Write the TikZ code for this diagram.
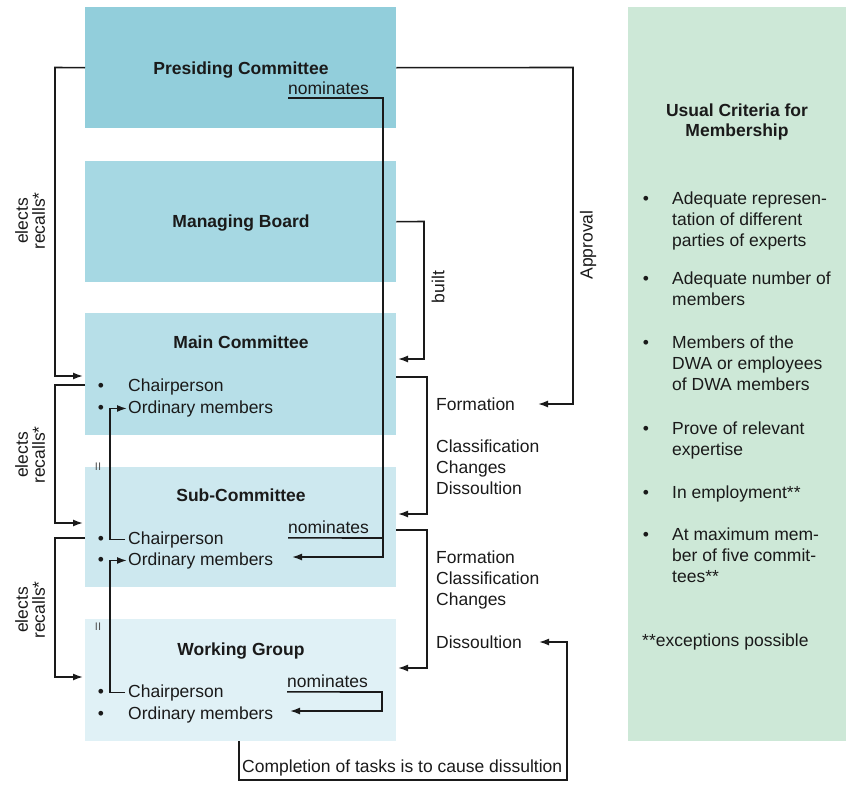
\documentclass[tikz,border=0pt]{standalone}
\usepackage{fontspec}
\setmainfont{Liberation Sans}
\usetikzlibrary{arrows.meta}
\definecolor{pcC}{HTML}{92CEDB}
\definecolor{mbC}{HTML}{A6D8E3}
\definecolor{mcC}{HTML}{B7DFE8}
\definecolor{scC}{HTML}{CDE8EF}
\definecolor{wgC}{HTML}{E0F1F6}
\definecolor{crC}{HTML}{CDE8D7}
\definecolor{ink}{HTML}{1A1A1A}
\begin{document}
\begin{tikzpicture}[x=1pt,y=-1pt,
  box/.style={draw=none, inner sep=0pt, anchor=north west},
  txt/.style={font=\fontsize{17.5}{21}\selectfont, inner sep=0pt, text=ink},
  ttl/.style={font=\fontsize{17.5}{20}\selectfont\bfseries, inner sep=0pt, text=ink},
  rot/.style={font=\fontsize{17.5}{17}\selectfont, inner sep=0pt, text=ink, rotate=90, align=center},
  ln/.style={draw=ink, line width=1.6pt},
  arr/.style={ln, -{Latex[length=10pt,width=7pt]}},
  tinytxt/.style={font=\fontsize{11}{11}\selectfont, inner sep=0pt, text=ink!75}
]
\path[use as bounding box] (0,0) rectangle (849,787);

% boxes
\node[box, fill=pcC, minimum width=311pt, minimum height=121pt] (pc) at (85,7) {};
\node[box, fill=mbC, minimum width=311pt, minimum height=121pt] (mb) at (85,161) {};
\node[box, fill=mcC, minimum width=311pt, minimum height=122pt] (mc) at (85,313) {};
\node[box, fill=scC, minimum width=311pt, minimum height=120pt] (sc) at (85,467) {};
\node[box, fill=wgC, minimum width=311pt, minimum height=122pt] (wg) at (85,619) {};
\node[box, fill=crC, minimum width=218pt, minimum height=734pt] (cr) at (628,7) {};

% titles
\node[ttl, anchor=base] (pcT) at (241,74) {Presiding Committee};
\node[txt, anchor=base west] (pcN) at (288,94) {nominates};
\node[ttl, anchor=base] (mbT) at (241,227) {Managing Board};
\node[ttl, anchor=base] (mcT) at (241,348) {Main Committee};
\node[ttl, anchor=base] (scT) at (241,501) {Sub-Committee};
\node[ttl, anchor=base] (wgT) at (241,655) {Working Group};
\node[tinytxt, anchor=center] (scII) at (98,467) {II};
\node[tinytxt, anchor=center] (wgII) at (98,627) {II};

% members
\node[txt, anchor=base] (mcB1) at (101,391) {•};
\node[txt, anchor=base] (mcB2) at (101,413) {•};
\node[txt, anchor=base west] (mcCh) at (128,391) {Chairperson};
\node[txt, anchor=base west] (mcOm) at (128,413) {Ordinary members};
\node[txt, anchor=base] (scB1) at (101,544) {•};
\node[txt, anchor=base] (scB2) at (101,565) {•};
\node[txt, anchor=base west] (scCh) at (128,544) {Chairperson};
\node[txt, anchor=base west] (scOm) at (128,565) {Ordinary members};
\node[txt, anchor=base west] (scN) at (288,533) {nominates};
\node[txt, anchor=base] (wgB1) at (101,697) {•};
\node[txt, anchor=base] (wgB2) at (101,719) {•};
\node[txt, anchor=base west] (wgCh) at (128,697) {Chairperson};
\node[txt, anchor=base west] (wgOm) at (128,719) {Ordinary members};
\node[txt, anchor=base west] (wgN) at (287,687) {nominates};

% side labels
\node[rot] (el1) at (30,221) {elects\\recalls*};
\node[rot] (el2) at (30,455) {elects\\recalls*};
\node[rot] (el3) at (30,610) {elects\\recalls*};
\node[rot] (built) at (438,287) {built};
\node[rot] (appr) at (588,245) {Approval};
\node[txt, anchor=base west] (f1) at (436,410) {Formation};
\node[txt, anchor=base west, align=left] (f2) at (436,494) {Classification\\Changes\\Dissoultion};
\node[txt, anchor=base west, align=left] (f3) at (436,605) {Formation\\Classification\\Changes};
\node[txt, anchor=base west] (f4) at (436,648) {Dissoultion};
\node[txt, anchor=base west] (compl) at (242,772) {Completion of tasks is to cause dissultion};

% criteria panel
\node[ttl, anchor=base, align=center] (crT) at (737,136) {Usual Criteria for\\Membership};
\foreach \y/\n in {204/1,284/2,348/3,434/4,498/5,540/6}
  \node[txt, anchor=base] (crB\n) at (646,\y) {•};
\node[txt, anchor=base west, align=left] (c1) at (672,246) {Adequate represen-\\tation of different\\parties of experts};
\node[txt, anchor=base west, align=left] (c2) at (672,305) {Adequate number of\\members};
\node[txt, anchor=base west, align=left] (c3) at (672,390) {Members of the\\DWA or employees\\of DWA members};
\node[txt, anchor=base west, align=left] (c4) at (672,455) {Prove of relevant\\expertise};
\node[txt, anchor=base west] (c5) at (672,498) {In employment**};
\node[txt, anchor=base west, align=left] (c6) at (672,582) {At maximum mem-\\ber of five commit-\\tees**};
\node[txt, anchor=base west] (cfoot) at (642,646) {**exceptions possible};

% connector end points
\coordinate (mcIn) at (83,376);
\coordinate (mcOut) at (85,385);
\coordinate (scIn) at (83,523);
\coordinate (scOut) at (85,538);
\coordinate (wgIn) at (83,677);
\coordinate (chx) at (110,0);
\coordinate (nomx) at (383,0);
\coordinate (scOmTip) at (292,557);
\coordinate (wgOmTip) at (290,711);
\coordinate (mcBuilt) at (398,359);
\coordinate (formTip) at (538,404);
\coordinate (mcR) at (396,377);
\coordinate (scRin) at (398,514);
\coordinate (scR) at (396,530);
\coordinate (wgRin) at (398,668);
\coordinate (wgBot) at (239,741);
\coordinate (dissTip) at (539,642);

% elects / recalls
\draw[arr] (pc.west) -- (55,67.5) |- (mcIn);
\draw[arr] (mcOut) -- (55,385) |- (scIn);
\draw[arr] (scOut) -- (55,538) |- (wgIn);

% chairperson -> ordinary members of the level above
\draw[arr] ([xshift=-3pt]scCh.west) -- (chx |- scCh.west) |- ([xshift=-1pt]mcOm.west);
\draw[arr] ([xshift=-3pt]wgCh.west) -- (chx |- wgCh.west) |- ([xshift=-1pt]scOm.west);

% nominates
\draw[arr] ([yshift=-3.5pt]pcN.south west) -| (nomx |- scOmTip) -- (scOmTip);
\draw[ln] ([yshift=-4.5pt]scN.south west) -- (nomx |- 0,538);
\draw[arr] ([yshift=-4.5pt]wgN.south west) -- (382,692) |- (wgOmTip);

% right side
\draw[arr] (mb.east) -- (424,221.5) |- (mcBuilt);
\draw[arr] (pc.east) -- (573,67.5) |- (formTip);
\draw[arr] (mcR) -- (427,377) |- (scRin);
\draw[arr] (scR) -- (427,530) |- (wgRin);
\draw[arr] (wgBot) -- (239,780) -- (567,780) |- (dissTip);
\end{tikzpicture}
\end{document}
